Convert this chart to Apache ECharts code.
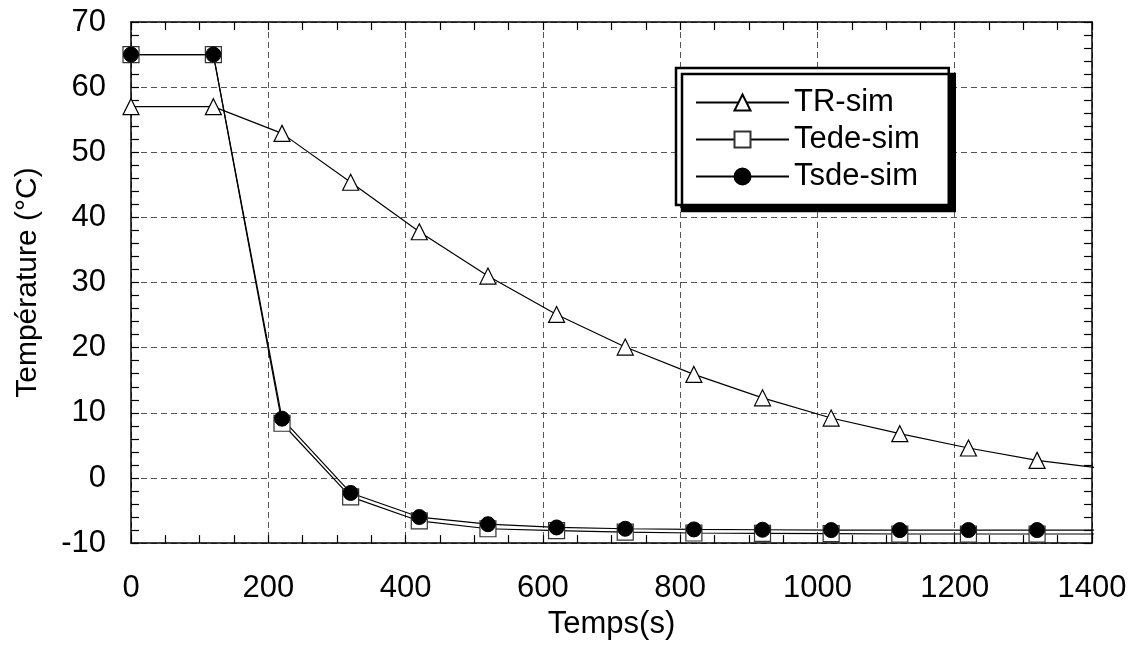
<!DOCTYPE html>
<html lang="fr">

<head>
    <meta charset="UTF-8">
    <title>Température</title>
    <script type="text/javascript" src="https://cdn.jsdelivr.net/npm/echarts@6/dist/echarts.min.js"></script>
    <style>
        * {
            margin: 0;
            padding: 0
        }

        html,
        body {
            width: 100%;
            height: 100%;
            background: #fff;
        }

        #main {
            width: 1137px;
            height: 645px;
        }
    </style>
</head>

<body>
    <div id="main"></div>
    <script type="text/javascript">
        // temps (s) des points simulés
        var temps = [0, 120, 220, 320, 420, 520, 620, 720, 820, 920, 1020, 1120, 1220, 1320, 1420];
        var trSim = [57, 57, 52.9, 45.4, 37.8, 31, 25.1, 20.1, 15.9, 12.3, 9.2, 6.8, 4.6, 2.7, 1.4];
        var tedeSim = [65, 65, 8.4, -2.9, -6.6, -7.8, -8.1, -8.3, -8.45, -8.5, -8.55, -8.6, -8.6, -8.6, -8.6];
        var tsdeSim = [65, 65, 9.1, -2.3, -6.0, -7.1, -7.6, -7.8, -7.9, -7.95, -8, -8, -8, -8, -8];
        var xTicks = [0, 1400, 200];
        var yTicks = [-10, 70, 10];

        var font = "'Liberation Sans', Arial, Helvetica, sans-serif";

        function pairs(ys) {
            return temps.map(function (t, i) { return [t, ys[i]]; });
        }

        function frameAxis(pos, range, split, isMain) {
            var ax = {
                type: 'value',
                position: pos,
                min: range[0],
                max: range[1],
                interval: range[2],
                axisLine: { show: true, onZero: false, lineStyle: { color: '#000', width: 1.5 } },
                axisTick: { show: true, inside: true, length: 8, lineStyle: { color: '#000', width: 1.2 } },
                minorTick: { show: true, splitNumber: split, length: 8, lineStyle: { color: '#000', width: 1.2 } },
                splitLine: { show: false },
                axisLabel: { show: false }
            };
            if (isMain) {
                ax.splitLine = { show: true, lineStyle: { color: '#555', type: [6, 4], width: 1 } };
                ax.axisLabel = {
                    show: true, color: '#000', fontSize: 31, fontFamily: font,
                    formatter: function (v) { return String(v); }
                };
            }
            return ax;
        }

        var myChart = echarts.init(document.getElementById('main'), null, { renderer: 'canvas' });

        var xBottom = frameAxis('bottom', xTicks, 4, true);
        xBottom.axisLabel.margin = 30;
        xBottom.name = 'Temps(s)';
        xBottom.nameLocation = 'middle';
        xBottom.nameGap = 60;
        xBottom.nameTextStyle = { color: '#000', fontSize: 31, fontFamily: font };

        var yLeft = frameAxis('left', yTicks, 5, true);
        yLeft.axisLabel.margin = 25;
        yLeft.name = 'Température (°C)';
        yLeft.nameLocation = 'middle';
        yLeft.nameGap = 88;
        yLeft.nameTextStyle = { color: '#000', fontSize: 30, fontFamily: font };

        var option = {
            backgroundColor: '#fff',
            animation: false,
            grid: { left: 131, right: 45, top: 22, bottom: 97 },
            legend: {
                orient: 'vertical',
                left: 676,
                top: 68,
                padding: [19, 29, 13, 19],
                itemWidth: 93,
                itemHeight: 20,
                itemGap: 6,
                backgroundColor: '#fff',
                borderColor: '#000',
                borderWidth: 2.5,
                borderRadius: 0,
                shadowColor: '#000',
                shadowBlur: 0,
                shadowOffsetX: 6,
                shadowOffsetY: 6,
                textStyle: { color: '#000', fontSize: 31, fontFamily: font },
                data: ['TR-sim', 'Tede-sim', 'Tsde-sim']
            },
            xAxis: [xBottom, frameAxis('top', xTicks, 4, false)],
            yAxis: [yLeft, frameAxis('right', yTicks, 5, false)],
            series: [
                {
                    name: 'TR-sim',
                    type: 'line',
                    data: pairs(trSim),
                    symbol: 'triangle',
                    symbolSize: 16,
                    clip: true,
                    lineStyle: { color: '#000', width: 1.2 },
                    itemStyle: { color: '#fff', borderColor: '#000', borderWidth: 1.2 }
                },
                {
                    name: 'Tede-sim',
                    type: 'line',
                    data: pairs(tedeSim),
                    symbol: 'rect',
                    symbolSize: 16,
                    clip: true,
                    lineStyle: { color: '#000', width: 1.2 },
                    itemStyle: { color: '#fff', borderColor: '#333', borderWidth: 1.2 }
                },
                {
                    name: 'Tsde-sim',
                    type: 'line',
                    data: pairs(tsdeSim),
                    symbol: 'circle',
                    symbolSize: 15,
                    clip: true,
                    lineStyle: { color: '#000', width: 1.2 },
                    itemStyle: { color: '#000', borderColor: '#000', borderWidth: 1 }
                }
            ]
        };

        myChart.setOption(option);
    </script>
</body>

</html>
